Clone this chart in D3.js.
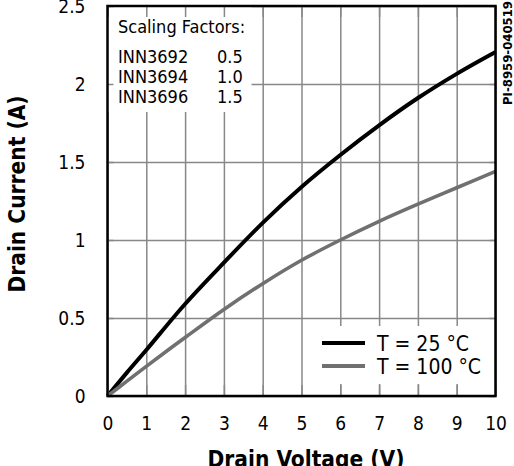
<!DOCTYPE html>
<html>
<head>
<meta charset="utf-8">
<script src="https://cdn.jsdelivr.net/npm/d3@7"></script>
<style>
  body { margin: 0; background: #fff; }
  svg { display: block; }
  text { font-family: "DejaVu Sans Condensed", "DejaVu Sans", sans-serif; fill: #000; }
</style>
</head>
<body>
<script>
// data
var voltage = [0, 0.5, 1, 2, 3, 4, 5, 6, 7, 8, 9, 10];
var current25 = [0, 0.15, 0.295, 0.59, 0.855, 1.11, 1.34, 1.545, 1.735, 1.91, 2.065, 2.205];
var current100 = [0, 0.095, 0.19, 0.375, 0.555, 0.72, 0.87, 1.0, 1.12, 1.23, 1.335, 1.44];
var xTicks = [0, 1, 2, 3, 4, 5, 6, 7, 8, 9, 10];
var yTicks = [0, 0.5, 1, 1.5, 2, 2.5];
var parts = ["INN3692", "INN3694", "INN3696"];
var factors = ["0.5", "1.0", "1.5"];
var seriesNames = ["T = 25 °C", "T = 100 °C"];
var seriesColors = ["#000000", "#707070"];

var W = 514, H = 466;
var pLeft = 107.5, pRight = 495.5, pTop = 6, pBottom = 396;

var svg = d3.select("body").append("svg")
  .attr("width", W).attr("height", H);

var x = d3.scaleLinear().domain([0, 10]).range([pLeft, pRight]);
var y = d3.scaleLinear().domain([0, 2.5]).range([pBottom, pTop]);

function grey(g){ g.select(".domain").remove(); g.selectAll("line").attr("stroke", "#888").attr("stroke-width", 1.5); }

// grid lines
svg.append("g")
  .attr("transform", "translate(0," + pBottom + ")")
  .call(d3.axisBottom(x).tickValues(xTicks).tickSize(-(pBottom - pTop)).tickFormat(""))
  .call(grey);
svg.append("g")
  .attr("transform", "translate(" + pLeft + ",0)")
  .call(d3.axisLeft(y).tickValues(yTicks).tickSize(-(pRight - pLeft)).tickFormat(""))
  .call(grey);

// curves
var line = d3.line().curve(d3.curveCatmullRom);
[current25, current100].forEach(function(vals, i){
  svg.append("path")
    .attr("d", line(voltage.map(function(v, k){ return [x(v), y(vals[k])]; })))
    .attr("fill", "none")
    .attr("stroke", seriesColors[i])
    .attr("stroke-width", i == 0 ? 4 : 3.6);
});

// white boxes that hide the grid
svg.append("rect").attr("x", pLeft).attr("y", pTop).attr("width", 144).attr("height", 106).attr("fill", "#fff");
svg.append("rect").attr("x", 310).attr("y", 326).attr("width", pRight - 310).attr("height", 58).attr("fill", "#fff");

// inner ticks on all four sides
svg.append("g").attr("transform", "translate(0," + pBottom + ")")
  .call(d3.axisBottom(x).tickValues(xTicks).tickSize(-11).tickFormat("")).call(grey);
svg.append("g").attr("transform", "translate(0," + pTop + ")")
  .call(d3.axisTop(x).tickValues(xTicks).tickSize(-11).tickFormat("")).call(grey);
svg.append("g").attr("transform", "translate(" + pLeft + ",0)")
  .call(d3.axisLeft(y).tickValues(yTicks).tickSize(-6).tickFormat("")).call(grey);
svg.append("g").attr("transform", "translate(" + pRight + ",0)")
  .call(d3.axisRight(y).tickValues(yTicks).tickSize(-6).tickFormat("")).call(grey);

// frame
svg.append("rect").attr("x", pLeft).attr("y", pTop).attr("width", pRight - pLeft).attr("height", pBottom - pTop)
  .attr("fill", "none").attr("stroke", "#000").attr("stroke-width", 2.5);

// tick labels
svg.append("g").attr("transform", "translate(0," + pBottom + ")")
  .call(d3.axisBottom(x).tickValues(xTicks).tickSize(0).tickPadding(21).tickFormat(d3.format("d")))
  .call(function(g){ g.select(".domain").remove(); g.selectAll("text").attr("font-size", 19).attr("font-family", null); });
svg.append("g").attr("transform", "translate(" + pLeft + ",0)")
  .call(d3.axisLeft(y).tickValues(yTicks).tickSize(0).tickPadding(22).tickFormat(function(d){ return String(d); }))
  .call(function(g){ g.select(".domain").remove(); g.selectAll("text").attr("font-size", 19).attr("font-family", null); });

// axis titles
svg.append("text").attr("x", 306).attr("y", 467).attr("text-anchor", "middle")
  .attr("font-size", 22.5).attr("font-weight", "bold").text("Drain Voltage (V)");
svg.append("text").attr("transform", "translate(25,194) rotate(-90)").attr("text-anchor", "middle")
  .attr("font-size", 22.5).attr("font-weight", "bold").text("Drain Current (A)");
svg.append("text").attr("transform", "translate(512,53) rotate(-90)").attr("text-anchor", "middle")
  .attr("font-size", 13).attr("font-weight", "bold").text("PI-8959-040519");

// scaling factors box
svg.append("text").attr("x", 118).attr("y", 33).attr("font-size", 18).text("Scaling Factors:");
parts.forEach(function(p, i){
  svg.append("text").attr("x", 118).attr("y", 63 + i * 20).attr("font-size", 18).text(p);
  svg.append("text").attr("x", 217).attr("y", 63 + i * 20).attr("font-size", 18).text(factors[i]);
});

// legend
seriesNames.forEach(function(n, i){
  var ly = 343 + i * 23;
  svg.append("line").attr("x1", 322).attr("x2", 365).attr("y1", ly).attr("y2", ly)
    .attr("stroke", seriesColors[i]).attr("stroke-width", 4);
  svg.append("text").attr("x", 377).attr("y", ly + 8).attr("font-size", 21).text(n);
});
</script>
</body>
</html>
